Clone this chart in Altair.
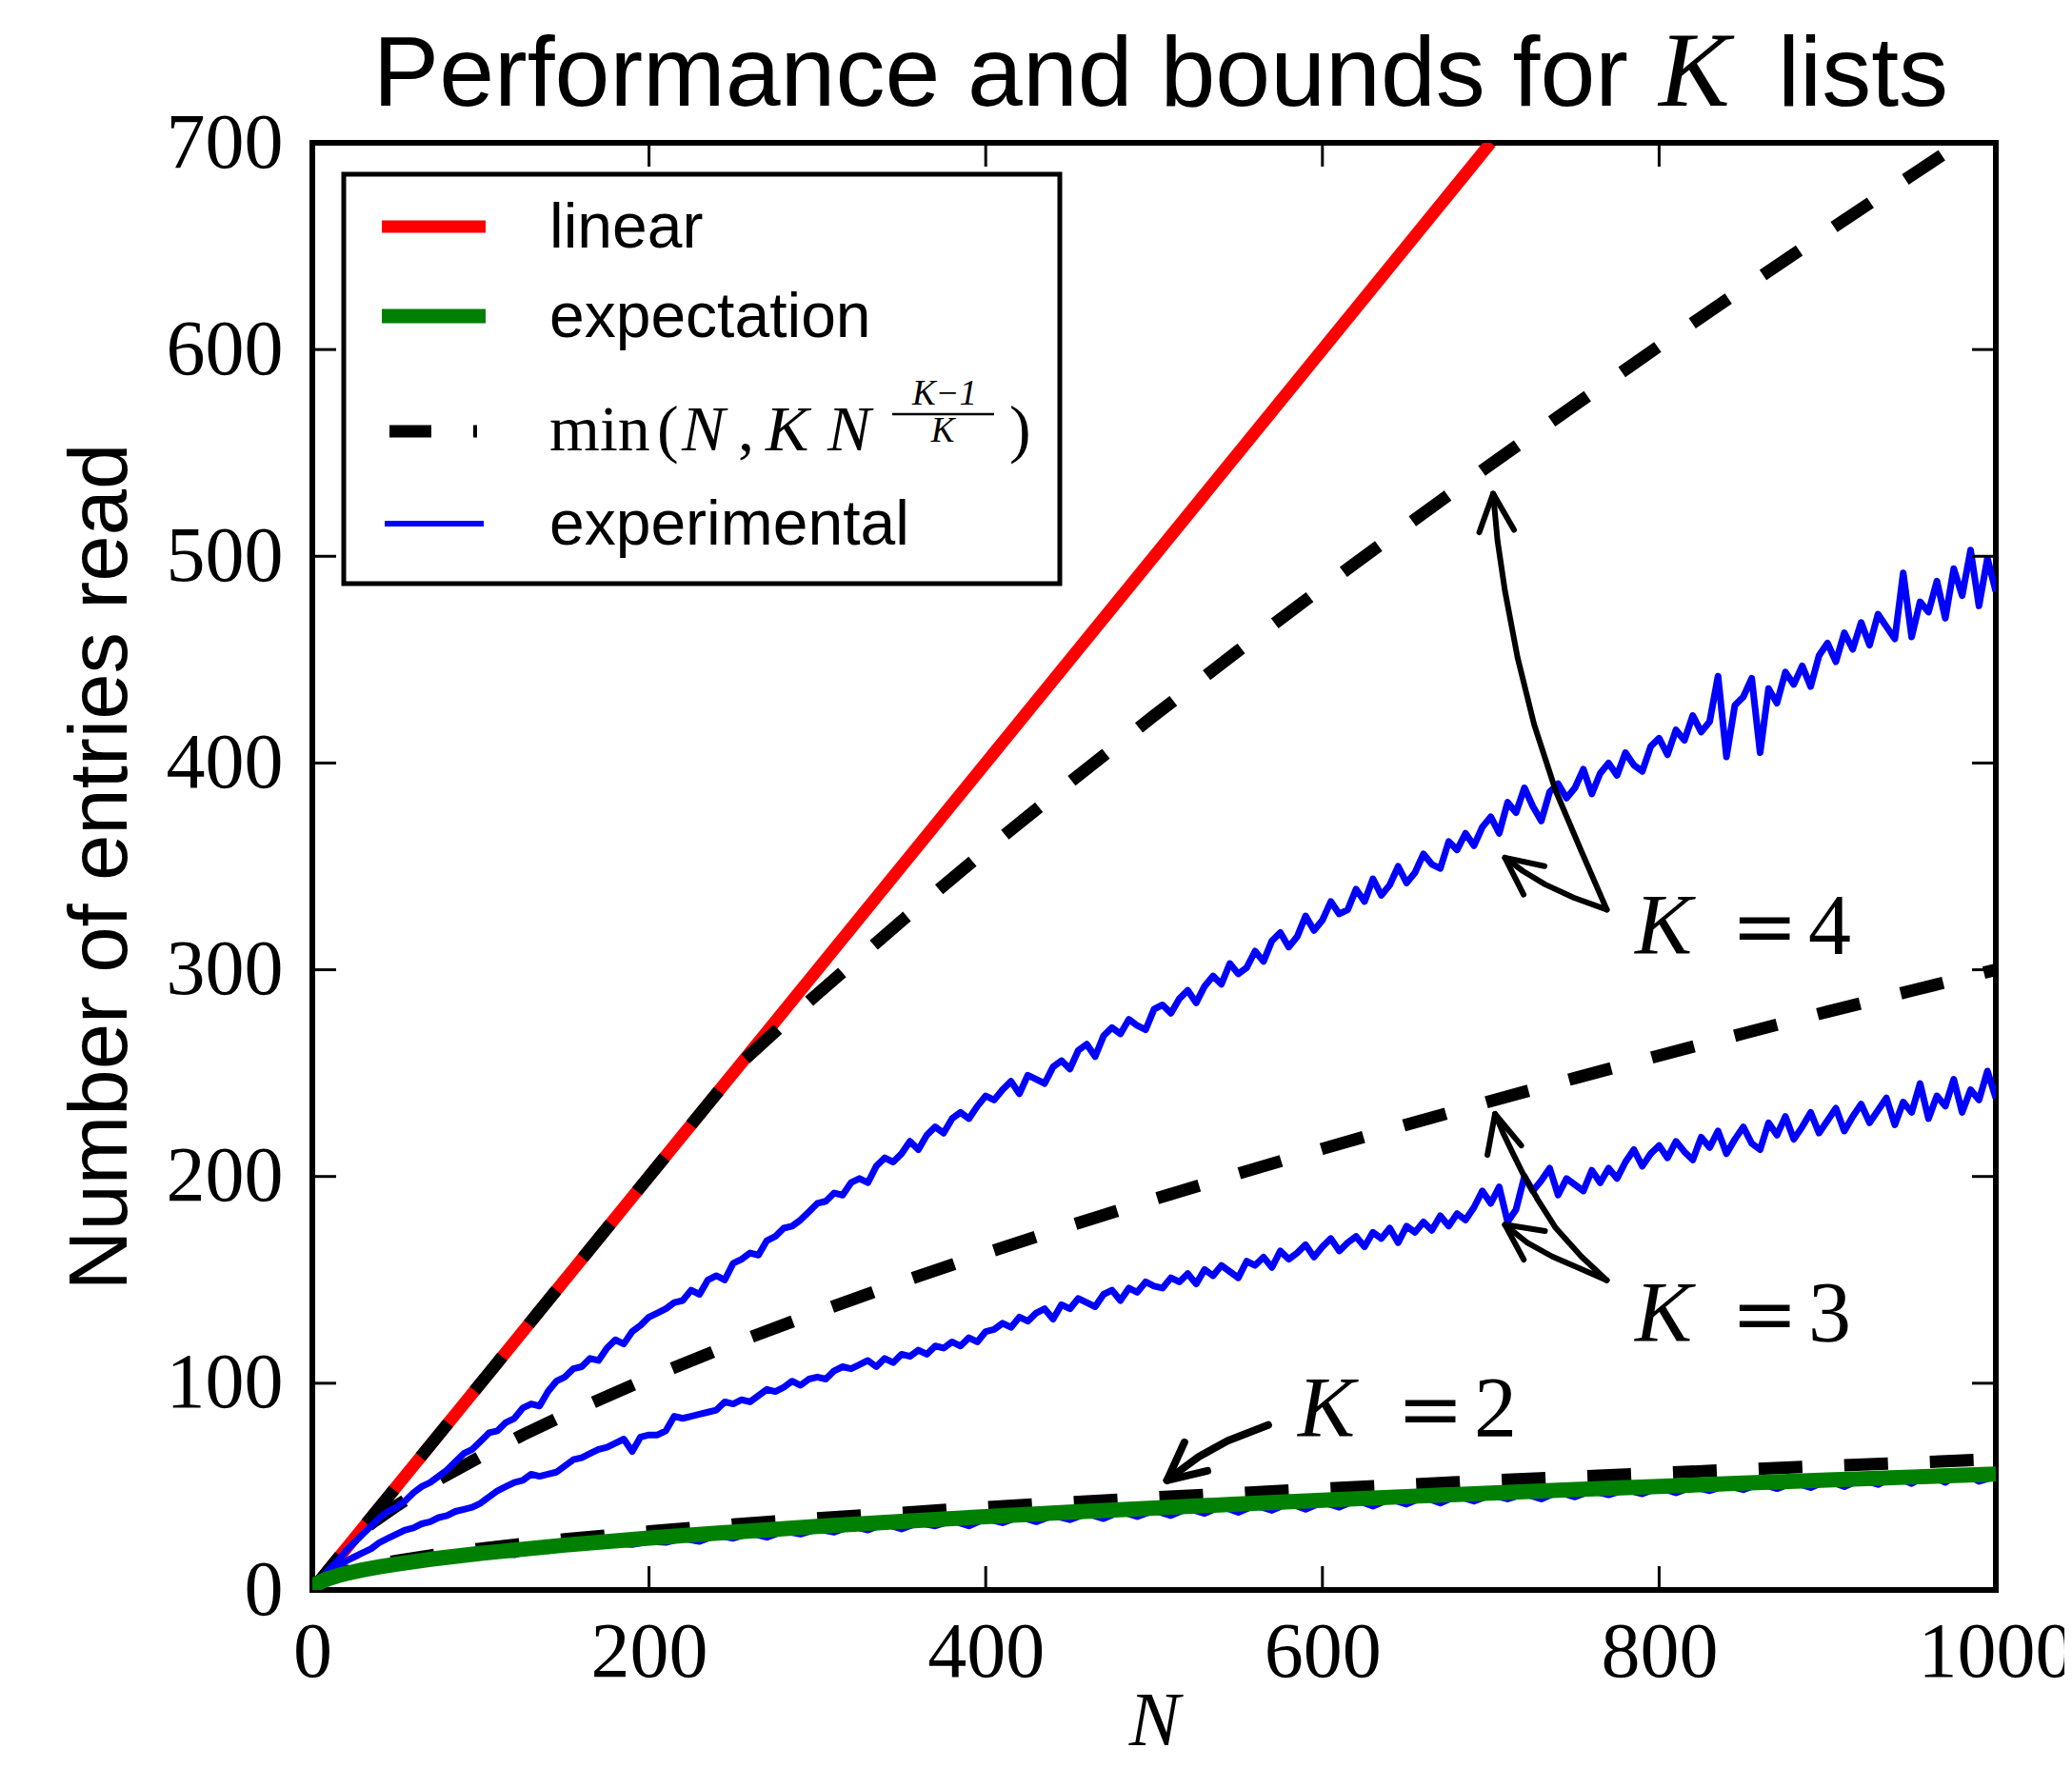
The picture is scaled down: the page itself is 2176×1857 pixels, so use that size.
import altair as alt
import pandas as pd

# ---------------- data ----------------
N_step5 = list(range(0, 1001, 5))
N_step10 = list(range(0, 1001, 10))

# experimental, K = 4 (N = 0..1000 step 5)
exp_k4 = [0,
    5, 10, 14, 19, 23, 27, 31, 35, 38, 40, 43, 47, 50, 52, 55, 58, 62, 66, 68, 72,
    76, 77, 81, 83, 88, 90, 89, 96, 101, 103, 107, 108, 112, 111, 117, 121, 119, 125, 128, 132,
    134, 136, 139, 140, 145, 143, 150, 152, 150, 158, 160, 163, 162, 169, 171, 175, 176, 179, 183, 187,
    188, 192, 191, 197, 199, 197, 205, 209, 207, 211, 217, 213, 220, 224, 221, 228, 231, 228, 234, 239,
    237, 242, 246, 240, 249, 247, 245, 253, 256, 252, 261, 264, 258, 268, 272, 269, 276, 273, 271, 281,
    283, 279, 286, 290, 284, 292, 297, 293, 303, 298, 301, 309, 304, 314, 318, 311, 316, 326, 319, 324,
    333, 327, 329, 339, 333, 344, 336, 341, 350, 342, 347, 356, 351, 349, 362, 358, 366, 360, 369, 374,
    366, 381, 376, 388, 379, 372, 386, 390, 383, 388, 397, 385, 395, 400, 394, 405, 399, 396, 408, 412,
    404, 416, 411, 423, 415, 420, 442, 403, 428, 432, 441, 405, 436, 429, 444, 438, 447, 437, 452, 458,
    449, 463, 455, 468, 457, 472, 466, 460, 492, 461, 478, 473, 488, 470, 494, 481, 503, 476, 499, 483]

# experimental, K = 3 (N = 0..1000 step 5)
exp_k3 = [0,
    4, 8, 11, 14, 16, 18, 20, 23, 25, 27, 29, 30, 32, 33, 35, 36, 38, 39, 40, 42,
    45, 48, 50, 52, 53, 56, 55, 56, 57, 60, 63, 64, 66, 68, 69, 71, 73, 67, 74, 75,
    75, 77, 84, 83, 84, 85, 86, 87, 91, 90, 92, 91, 94, 97, 96, 98, 101, 99, 102, 103,
    102, 106, 108, 107, 109, 111, 108, 112, 110, 114, 113, 116, 114, 118, 117, 120, 118, 122, 120, 125,
    126, 129, 127, 132, 130, 134, 136, 131, 138, 136, 141, 139, 137, 143, 145, 140, 146, 144, 149, 147,
    146, 151, 149, 153, 148, 155, 152, 157, 154, 151, 159, 157, 161, 156, 164, 160, 163, 167, 161, 166,
    170, 164, 168, 171, 166, 173, 170, 175, 168, 176, 173, 178, 174, 181, 176, 182, 179, 185, 193, 187,
    195, 178, 184, 200, 193, 198, 204, 191, 199, 196, 193, 203, 197, 204, 199, 207, 213, 205, 211, 215,
    209, 217, 212, 208, 219, 214, 222, 211, 218, 224, 216, 213, 226, 220, 229, 218, 224, 231, 221, 227,
    233, 222, 229, 235, 226, 232, 238, 225, 236, 231, 245, 228, 239, 234, 247, 231, 242, 237, 251, 238]

# experimental, K = 2 (N = 0..1000 step 10)
exp_k2 = [0, 5, 7.5, 9, 10.5, 11.5, 13, 14, 14.5, 16, 16.5,
    17.5, 17, 19.5, 19, 20.5, 21, 21.5, 22.5, 22, 23.5,
    23, 25, 23.5, 26.5, 25, 27.5, 25.5, 28.5, 27, 29.5,
    28, 31, 29, 32, 29.5, 32.5, 31, 33.5, 31, 34.5,
    32.5, 35.5, 33, 36, 34, 37, 34.5, 38, 35.5, 38.5,
    36, 39.5, 37, 40.5, 37.5, 41, 38.5, 42, 39, 42.5,
    40, 43.5, 40.5, 44, 41.5, 45, 42, 45.5, 43, 46,
    44, 46.5, 44, 47.5, 45, 48, 46, 48.5, 46.5, 49.5,
    47, 50, 48, 50.5, 48.5, 51.5, 49, 52, 49.5, 53,
    50, 53.5, 51, 55, 51.5, 56, 52, 57, 52.5, 55]

# expectation (green)
expect_N = [0, 1, 2, 4, 6, 8, 10, 15, 20, 30, 40, 50, 70, 100, 150, 200, 250, 300, 350, 400,
            450, 500, 550, 600, 650, 700, 750, 800, 850, 900, 950, 1000]
expect_y = [0, 1.77, 2.51, 3.54, 4.34, 5.01, 5.60, 6.86, 7.93, 9.71, 11.21, 12.53, 14.83, 17.72,
            21.71, 25.07, 28.02, 30.70, 33.16, 35.45, 37.60, 39.63, 41.57, 43.42, 45.19, 46.89,
            48.54, 50.13, 51.67, 53.17, 54.63, 56.05]

# linear (red)
linear_N = [0, 700]
linear_y = [0, 700]

# bounds min(N, K N^((K-1)/K)) (black dashed)
bound_k4_N = [0, 256, 275, 300, 350, 400, 450, 500, 550, 600, 650, 700, 750, 800, 850, 900, 950, 1000]
bound_k4_y = [0, 256, 270.1, 288.3, 323.6, 357.8, 390.7, 422.9, 454.3, 484.9, 514.9, 544.5, 573.2,
              601.7, 629.6, 657.2, 684.3, 711.3]
bound_k3_N = [0, 27, 35, 50, 75, 100, 125, 150, 200, 250, 300, 350, 400, 450, 500, 550, 600, 650,
              700, 750, 800, 850, 900, 950, 1000]
bound_k3_y = [0, 27, 32.1, 40.7, 53.4, 64.6, 75.0, 84.7, 102.6, 119.1, 134.4, 149.0, 162.9, 176.2,
              189.0, 201.4, 213.4, 225.1, 236.5, 247.6, 258.5, 269.2, 279.7, 289.9, 300.0]
bound_k2_N = [0, 4, 10, 20, 35, 50, 75, 100, 150, 200, 250, 300, 400, 500, 600, 700, 800, 900, 1000]
bound_k2_y = [0, 4, 6.32, 8.94, 11.83, 14.14, 17.32, 20.0, 24.49, 28.28, 31.62, 34.64, 40.0, 44.72,
              48.99, 52.92, 56.57, 60.0, 63.25]

# annotation arrows (data coordinates)
arrow_k4_up_N = [768.9, 753.8, 738.6, 725.7, 715.9, 708.4, 704.0, 701.4]
arrow_k4_up_y = [329.1, 357.4, 386.5, 418.8, 451.1, 483.4, 507.6, 530.3]
head_k4_up_N = [693.2, 701.4, 713.8]
head_k4_up_y = [511.6, 530.3, 512.8]
arrow_k4_lo_N = [768.9, 749.5, 732.2, 719.2, 708.4]
arrow_k4_lo_y = [329.1, 334.8, 341.3, 347.7, 354.2]
head_k4_lo_N = [731.9, 708.4, 719.5]
head_k4_lo_y = [350.1, 354.2, 336.4]
arrow_k3_up_N = [768.9, 753.8, 738.6, 727.8, 719.2, 712.7, 707.3, 702.5]
arrow_k3_up_y = [149.8, 161.3, 175.1, 188.9, 201.2, 211.9, 221.1, 230.3]
head_k3_up_N = [698.0, 702.5, 718.1]
head_k3_up_y = [210.4, 230.3, 215.0]
arrow_k3_lo_N = [768.9, 753.8, 736.5, 721.3, 708.4]
arrow_k3_lo_y = [149.8, 155.2, 161.3, 168.2, 176.7]
head_k3_lo_N = [732.2, 708.4, 719.6]
head_k3_lo_y = [173.6, 176.7, 159.8]
arrow_k2_N = [567.8, 543.8, 526.6, 516.3, 507.7]
arrow_k2_y = [79.8, 72.2, 64.5, 58.3, 53.0]
head_k2_N = [518.0, 507.7, 531.7]
head_k2_y = [71.4, 53.0, 57.6]

x_ticks = [200, 400, 600, 800]
y_ticks = [100, 200, 300, 400, 500, 600]

# ---------------- layout constants ----------------
W, H = 1768, 1520
SANS = "Liberation Sans"
SERIF = "Liberation Serif"

xscale = alt.Scale(domain=[0, 1000], nice=False, zero=False)
yscale = alt.Scale(domain=[0, 700], nice=False, zero=False)
xaxis = alt.Axis(values=[0, 200, 400, 600, 800, 1000], title="N", format="d",
                 labelPadding=90, labelBaseline="alphabetic", labelOverlap=False, labelFlush=False,
                 titleFont=SERIF, titleFontStyle="italic", titleFontSize=80,
                 titleFontWeight="normal", titleX=884, titleY=162,
                 titleBaseline="alphabetic", titleAlign="center")
yaxis = alt.Axis(values=[0, 100, 200, 300, 400, 500, 600, 700], title="Number of entries read",
                 format="d", labelPadding=31, labelOverlap=False, labelFlush=False,
                 titleFont=SANS, titleFontSize=87, titleFontWeight="normal",
                 titleAngle=270, titleX=-196, titleY=760, titleAlign="center",
                 titleBaseline="alphabetic")
X = alt.X("N:Q", scale=xscale, axis=xaxis)
Y = alt.Y("y:Q", scale=yscale, axis=yaxis)


def series(Ns, ys, name):
    return pd.DataFrame({"N": Ns, "y": ys, "s": name})


red_df = series(linear_N, linear_y, "linear")
green_df = series(expect_N, expect_y, "expectation")
dash_df = pd.concat([series(bound_k4_N, bound_k4_y, "k4"),
                     series(bound_k3_N, bound_k3_y, "k3"),
                     series(bound_k2_N, bound_k2_y, "k2")])
blue_df = pd.concat([series(N_step5, exp_k4, "k4"),
                     series(N_step5, exp_k3, "k3"),
                     series(N_step10, exp_k2, "k2")])


def path(Ns, ys, name):
    return pd.DataFrame({"N": Ns, "y": ys, "g": name, "i": list(range(len(Ns)))})


arrows_thin = pd.concat([
    path(arrow_k4_up_N, arrow_k4_up_y, "a1"), path(head_k4_up_N, head_k4_up_y, "h1"),
    path(arrow_k4_lo_N, arrow_k4_lo_y, "a2"), path(head_k4_lo_N, head_k4_lo_y, "h2"),
    path(arrow_k3_up_N, arrow_k3_up_y, "a3"), path(head_k3_up_N, head_k3_up_y, "h3"),
    path(arrow_k3_lo_N, arrow_k3_lo_y, "a4"), path(head_k3_lo_N, head_k3_lo_y, "h4"),
])
arrows_thick = pd.concat([path(arrow_k2_N, arrow_k2_y, "a5"), path(head_k2_N, head_k2_y, "h5")])

one = pd.DataFrame({"a": [0]})

red = alt.Chart(red_df).mark_line(color="#ff0000", strokeWidth=13, clip=True, strokeCap="butt").encode(
    x=X, y=Y)
dashed = alt.Chart(dash_df).mark_line(color="black", strokeWidth=13, strokeDash=[46, 44],
                                      clip=True, strokeCap="butt").encode(x=X, y=Y, detail="s:N")
blue = alt.Chart(blue_df).mark_line(color="#0000ff", strokeWidth=7, clip=True,
                                    strokeJoin="round").encode(x=X, y=Y, detail="s:N")
green = alt.Chart(green_df).mark_line(color="#008000", strokeWidth=16, clip=True,
                                      strokeJoin="round").encode(x=X, y=Y)
arr1 = alt.Chart(arrows_thin).mark_line(color="black", strokeWidth=6, strokeCap="round",
                                        strokeJoin="round").encode(
    x=X, y=Y, detail="g:N", order="i:Q")
arr2 = alt.Chart(arrows_thick).mark_line(color="black", strokeWidth=8, strokeCap="round",
                                         strokeJoin="round").encode(
    x=X, y=Y, detail="g:N", order="i:Q")

xt_df = pd.DataFrame({"N": x_ticks})
yt_df = pd.DataFrame({"y": y_ticks})
TL = 25
ticks = [
    alt.Chart(xt_df).mark_rule(color="black", strokeWidth=3).encode(
        x=X, y=alt.value(H), y2=alt.value(H - TL)),
    alt.Chart(xt_df).mark_rule(color="black", strokeWidth=3).encode(
        x=X, y=alt.value(0), y2=alt.value(TL)),
    alt.Chart(yt_df).mark_rule(color="black", strokeWidth=3).encode(
        y=Y, x=alt.value(0), x2=alt.value(TL)),
    alt.Chart(yt_df).mark_rule(color="black", strokeWidth=3).encode(
        y=Y, x=alt.value(W), x2=alt.value(W - TL)),
]


def txt(s, x, y, size, font, style="normal", align="left"):
    return alt.Chart(one).mark_text(font=font, fontSize=size, fontStyle=style, align=align,
                                    baseline="alphabetic", color="black").encode(
        x=alt.value(x), y=alt.value(y), text=alt.value(s))


def hline(x1, x2, y, color, w):
    return alt.Chart(one).mark_rule(color=color, strokeWidth=w, strokeCap="butt").encode(
        x=alt.value(x1), x2=alt.value(x2), y=alt.value(y))


# legend
legend_box = alt.Chart(one).mark_rect(fill="white", stroke="black", strokeWidth=5).encode(
    x=alt.value(33), x2=alt.value(785), y=alt.value(33), y2=alt.value(463))
legend = [
    legend_box,
    hline(73, 182, 88, "#ff0000", 13),
    hline(73, 182, 182, "#008000", 15),
    hline(81, 125, 303, "black", 13),
    hline(169, 173, 303, "black", 13),
    hline(76, 180, 400, "#0000ff", 6),
    txt("linear", 249, 110, 66, SANS),
    txt("expectation", 249, 204, 66, SANS),
    txt("experimental", 249, 422, 66, SANS),
    txt("min", 249, 323, 68, SERIF),
    txt("(", 362, 323, 68, SERIF),
    txt("N", 388, 323, 68, SERIF, "italic"),
    txt(",", 447, 323, 68, SERIF),
    txt("K", 476, 323, 68, SERIF, "italic"),
    txt("N", 541, 323, 68, SERIF, "italic"),
    txt("K\u22121", 664, 275, 37, SERIF, "italic", "center"),
    hline(609, 716, 285, "black", 2.5),
    txt("K", 662, 314, 37, SERIF, "italic", "center"),
    txt(")", 732, 323, 68, SERIF),
]

# annotation labels
EQ = "DejaVu Serif"
labels = [
    txt("K", 1389, 852, 90, SERIF, "italic"), txt("=", 1490, 852, 84, EQ),
    txt("4", 1571, 852, 90, SERIF),
    txt("K", 1389, 1259, 90, SERIF, "italic"), txt("=", 1490, 1259, 84, EQ),
    txt("3", 1571, 1259, 90, SERIF),
    txt("K", 1035, 1359, 90, SERIF, "italic"), txt("=", 1139, 1359, 84, EQ),
    txt("2", 1220, 1359, 90, SERIF),
]

# title
title = [
    txt("Performance and bounds for", 1382, -39, 104, SANS, "normal", "right"),
    txt("K", 1414, -39, 112, SERIF, "italic"),
    txt("lists", 1539, -39, 104, SANS),
]

chart = alt.layer(red, dashed, blue, green, arr1, arr2, *ticks, *legend, *labels, *title).properties(
    width=W, height=H,
    autosize=alt.AutoSizeParams(type="none"),
    padding={"left": 320, "top": 142, "right": 72, "bottom": 179},
).configure_view(stroke="black", strokeWidth=6).configure_axis(
    grid=False, ticks=False, domain=False, labelFont=SERIF, labelFontSize=82,
    labelColor="black", titleColor="black")

chart.save("out.html", embed_options={"renderer": "svg", "actions": False})
